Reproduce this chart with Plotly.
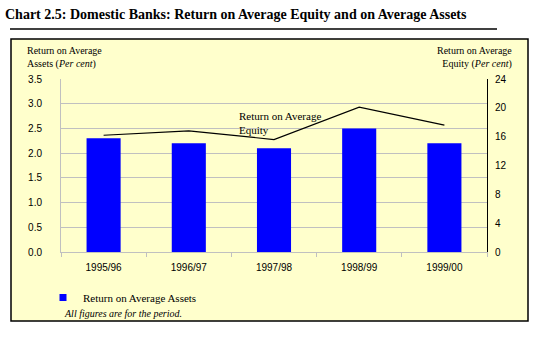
import plotly.graph_objects as go

# Financial years and the two return measures (per cent)
years = ["1995/96", "1996/97", "1997/98", "1998/99", "1999/00"]
roa = [2.3, 2.2, 2.1, 2.5, 2.2]          # Return on Average Assets (left axis)
roe = [16.2, 16.8, 15.6, 20.1, 17.6]     # Return on Average Equity (right axis)

left_ticks = [0.0, 0.5, 1.0, 1.5, 2.0, 2.5, 3.0, 3.5]
right_ticks = [0, 4, 8, 12, 16, 20, 24]

SERIF = "Liberation Serif, Times New Roman, serif"
SANS = "Liberation Sans, Arial, sans-serif"
PANEL = "#FFFFCC"
GRID = "#C0C0C0"

W, H = 556, 341
L, R, T, B = 61, 69, 79, 89
PW, PH = W - L - R, H - T - B


def px(x):
    return (x - L) / PW


def py(y):
    return (H - B - y) / PH


fig = go.Figure()

fig.add_trace(go.Bar(
    x=years, y=roa, name="Return on Average Assets",
    marker=dict(color="#0000FF", line=dict(width=0)),
    width=0.4, showlegend=False, yaxis="y",
))

fig.add_trace(go.Scatter(
    x=years, y=roe, mode="lines", name="Return on Average Equity",
    line=dict(color="black", width=1.2), showlegend=False, yaxis="y2",
))

# legend entry for the bars
fig.add_trace(go.Scatter(
    x=[None], y=[None], mode="markers", name="Return on Average Assets",
    marker=dict(symbol="square", size=7, color="#0000FF"), showlegend=True,
))

fig.update_layout(
    width=W, height=H,
    margin=dict(l=L, r=R, t=T, b=B),
    paper_bgcolor="white",
    plot_bgcolor="rgba(0,0,0,0)",
    bargap=0.6,
    title=dict(
        text="<b>Chart 2.5: Domestic Banks: Return on Average Equity and on Average Assets</b>",
        x=5 / W, xanchor="left", y=1 - 14 / H, yanchor="middle",
        font=dict(family=SERIF, size=14, color="black"),
    ),
    xaxis=dict(
        type="category", categoryarray=years,
        showgrid=False, showline=True, linecolor=GRID, linewidth=1,
        ticks="outside", tickson="boundaries", ticklen=4, tickcolor=GRID,
        tickfont=dict(family=SANS, size=10, color="black"),
        ticklabelstandoff=6,
    ),
    yaxis=dict(
        range=[0, 3.5], tickvals=left_ticks,
        ticktext=[f"{v:.1f}" for v in left_ticks],
        showgrid=True, gridcolor=GRID, gridwidth=1,
        showline=True, linecolor=GRID, linewidth=1,
        ticks="", zeroline=False,
        tickfont=dict(family=SANS, size=10, color="black"),
        ticklabelstandoff=16,
    ),
    yaxis2=dict(
        range=[0, 24], tickvals=right_ticks, overlaying="y", side="right",
        showgrid=False, showline=True, linecolor="black", linewidth=1,
        ticks="", zeroline=False,
        tickfont=dict(family=SANS, size=10, color="black"),
        ticklabelstandoff=5,
    ),
    legend=dict(
        x=px(43), y=py(283), xanchor="left", yanchor="top",
        bgcolor="rgba(0,0,0,0)", font=dict(family=SERIF, size=11, color="black"),
        itemwidth=30,
    ),
    shapes=[
        # panel behind the chart
        dict(type="rect", xref="paper", yref="paper",
             x0=px(11), x1=px(528), y0=py(321), y1=py(39),
             fillcolor=PANEL, line=dict(color="black", width=1.5), layer="below"),
        # rule under the heading
        dict(type="line", xref="paper", yref="paper",
             x0=px(10), x1=px(497), y0=py(29), y1=py(29),
             line=dict(color="black", width=1.5)),
    ],
    annotations=[
        dict(text="Return on Average<br>Assets (<i>Per cent</i>)", xref="paper", yref="paper",
             x=px(25), y=py(43), xanchor="left", yanchor="top", align="left",
             showarrow=False, font=dict(family=SERIF, size=10, color="black")),
        dict(text="Return on Average<br>Equity (<i>Per cent</i>)", xref="paper", yref="paper",
             x=px(514), y=py(43), xanchor="right", yanchor="top", align="right",
             showarrow=False, font=dict(family=SERIF, size=10, color="black")),
        dict(text="Return on Average<br>Equity", xref="paper", yref="paper",
             x=px(237), y=py(108), xanchor="left", yanchor="top", align="left",
             showarrow=False, font=dict(family=SERIF, size=11, color="black")),
        dict(text="<i>All figures are for the period.</i>", xref="paper", yref="paper",
             x=px(62), y=py(313), xanchor="left", yanchor="middle", align="left",
             showarrow=False, font=dict(family=SERIF, size=10, color="black")),
    ],
)

fig.write_html("out.html")
